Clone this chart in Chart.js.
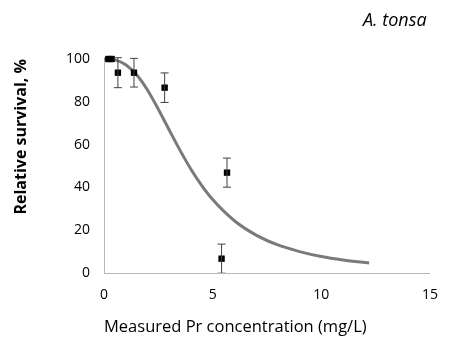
<!DOCTYPE html>
<html>
<head>
<meta charset="utf-8">
<script src="https://cdn.jsdelivr.net/npm/chart.js@4"></script>
<style>
  body { margin: 0; background: #fff; }
  #wrap { position: relative; width: 452px; height: 340px; }
  #species { position: absolute; left: 363px; top: 7px; font: italic 18px "Open Sans", sans-serif; color: #000; }
</style>
</head>
<body>
<div id="wrap">
  <canvas id="survivalChart" width="452" height="340"></canvas>
  <div id="species">A. tonsa</div>
</div>
<script>
var obsConc     = [0.2, 0.35, 0.64, 1.38, 2.79, 5.41, 5.66]
var obsSurvival = [100, 100, 93.6, 93.6, 86.6, 6.7, 46.9]
var obsError    = [0, 0, 7, 6.7, 6.9, 6.8, 6.8]

// fitted dose-response curve
var fitConc     = [0, 0.5, 1, 1.5, 2, 2.5, 3, 3.5, 4, 4.5, 5, 6, 7, 8, 9, 10, 11, 12.2]
var fitSurvival = [100, 99.6, 97.3, 92.6, 85.5, 76.5, 66.8, 57.3, 48.5, 40.8, 34.3, 24.4, 17.7, 13.1, 10.0, 7.7, 6.1, 4.7]

var xTicks = [0, 5, 10, 15]
var yTicks = [0, 20, 40, 60, 80, 100]

var obsPoints = obsConc.map(function (x, i) { return { x: x, y: obsSurvival[i] } })
var fitPoints = fitConc.map(function (x, i) { return { x: x, y: fitSurvival[i] } })

// draws the vertical error bars with caps
var errorBars = {
  id: 'errorBars',
  afterDatasetsDraw: function (chart) {
    var ctx = chart.ctx
    var yScale = chart.scales.y
    var meta = chart.getDatasetMeta(0)
    var area = chart.chartArea
    ctx.save()
    ctx.beginPath()
    ctx.rect(area.left, area.top - 10, area.right - area.left, area.bottom - area.top + 10)
    ctx.clip()
    ctx.strokeStyle = '#404040'
    ctx.lineWidth = 1
    meta.data.forEach(function (pt, i) {
      var e = obsError[i]
      if (!e) return
      var top = yScale.getPixelForValue(obsSurvival[i] + e)
      var bottom = yScale.getPixelForValue(obsSurvival[i] - e)
      ctx.beginPath()
      ctx.moveTo(pt.x, top)
      ctx.lineTo(pt.x, bottom)
      ctx.moveTo(pt.x - 4, top)
      ctx.lineTo(pt.x + 4, top)
      ctx.moveTo(pt.x - 4, bottom)
      ctx.lineTo(pt.x + 4, bottom)
      ctx.stroke()
    })
    ctx.restore()
  }
}

var tickFont = { family: 'Open Sans', size: 14 }

new Chart(document.getElementById('survivalChart').getContext('2d'), {
  type: 'scatter',
  data: {
    datasets: [
      {
        data: obsPoints,
        pointStyle: 'rect',
        pointRadius: 4.5,
        backgroundColor: '#000',
        borderColor: '#000',
        borderWidth: 0,
        clip: false,
        order: 0
      },
      {
        type: 'line',
        data: fitPoints,
        borderColor: '#7a7a7a',
        borderWidth: 3,
        pointRadius: 0,
        tension: 0.4,
        cubicInterpolationMode: 'monotone',
        fill: false,
        clip: false,
        order: 1
      }
    ]
  },
  options: {
    responsive: false,
    animation: false,
    layout: { padding: { top: 59, right: 10, left: 0, bottom: 0 } },
    plugins: { legend: { display: false }, tooltip: { enabled: false } },
    scales: {
      x: {
        type: 'linear',
        min: 0,
        max: 15,
        afterBuildTicks: function (axis) { axis.ticks = xTicks.map(function (v) { return { value: v } }) },
        afterFit: function (axis) { axis.height = 67 },
        grid: { display: false, drawTicks: false },
        border: { display: true, color: '#b8b8b8', width: 1 },
        ticks: { font: tickFont, color: '#000', padding: 14 },
        title: {
          display: true,
          text: 'Measured Pr concentration (mg/L)',
          align: 'start',
          color: '#000',
          font: { family: 'Open Sans', size: 16.5 },
          padding: { top: 0, bottom: 3 }
        }
      },
      y: {
        min: 0,
        max: 100,
        afterBuildTicks: function (axis) { axis.ticks = yTicks.map(function (v) { return { value: v } }) },
        afterFit: function (axis) { axis.width = 104 },
        grid: { display: false, drawTicks: false },
        border: { display: true, color: '#b8b8b8', width: 1 },
        ticks: { font: tickFont, color: '#000', padding: 14 },
        title: {
          display: true,
          text: 'Relative survival, %',
          align: 'end',
          color: '#000',
          font: { family: 'Open Sans', size: 16, weight: 'bold' },
          padding: { top: 12, bottom: 0 }
        }
      }
    }
  },
  plugins: [errorBars]
})
</script>
</body>
</html>
